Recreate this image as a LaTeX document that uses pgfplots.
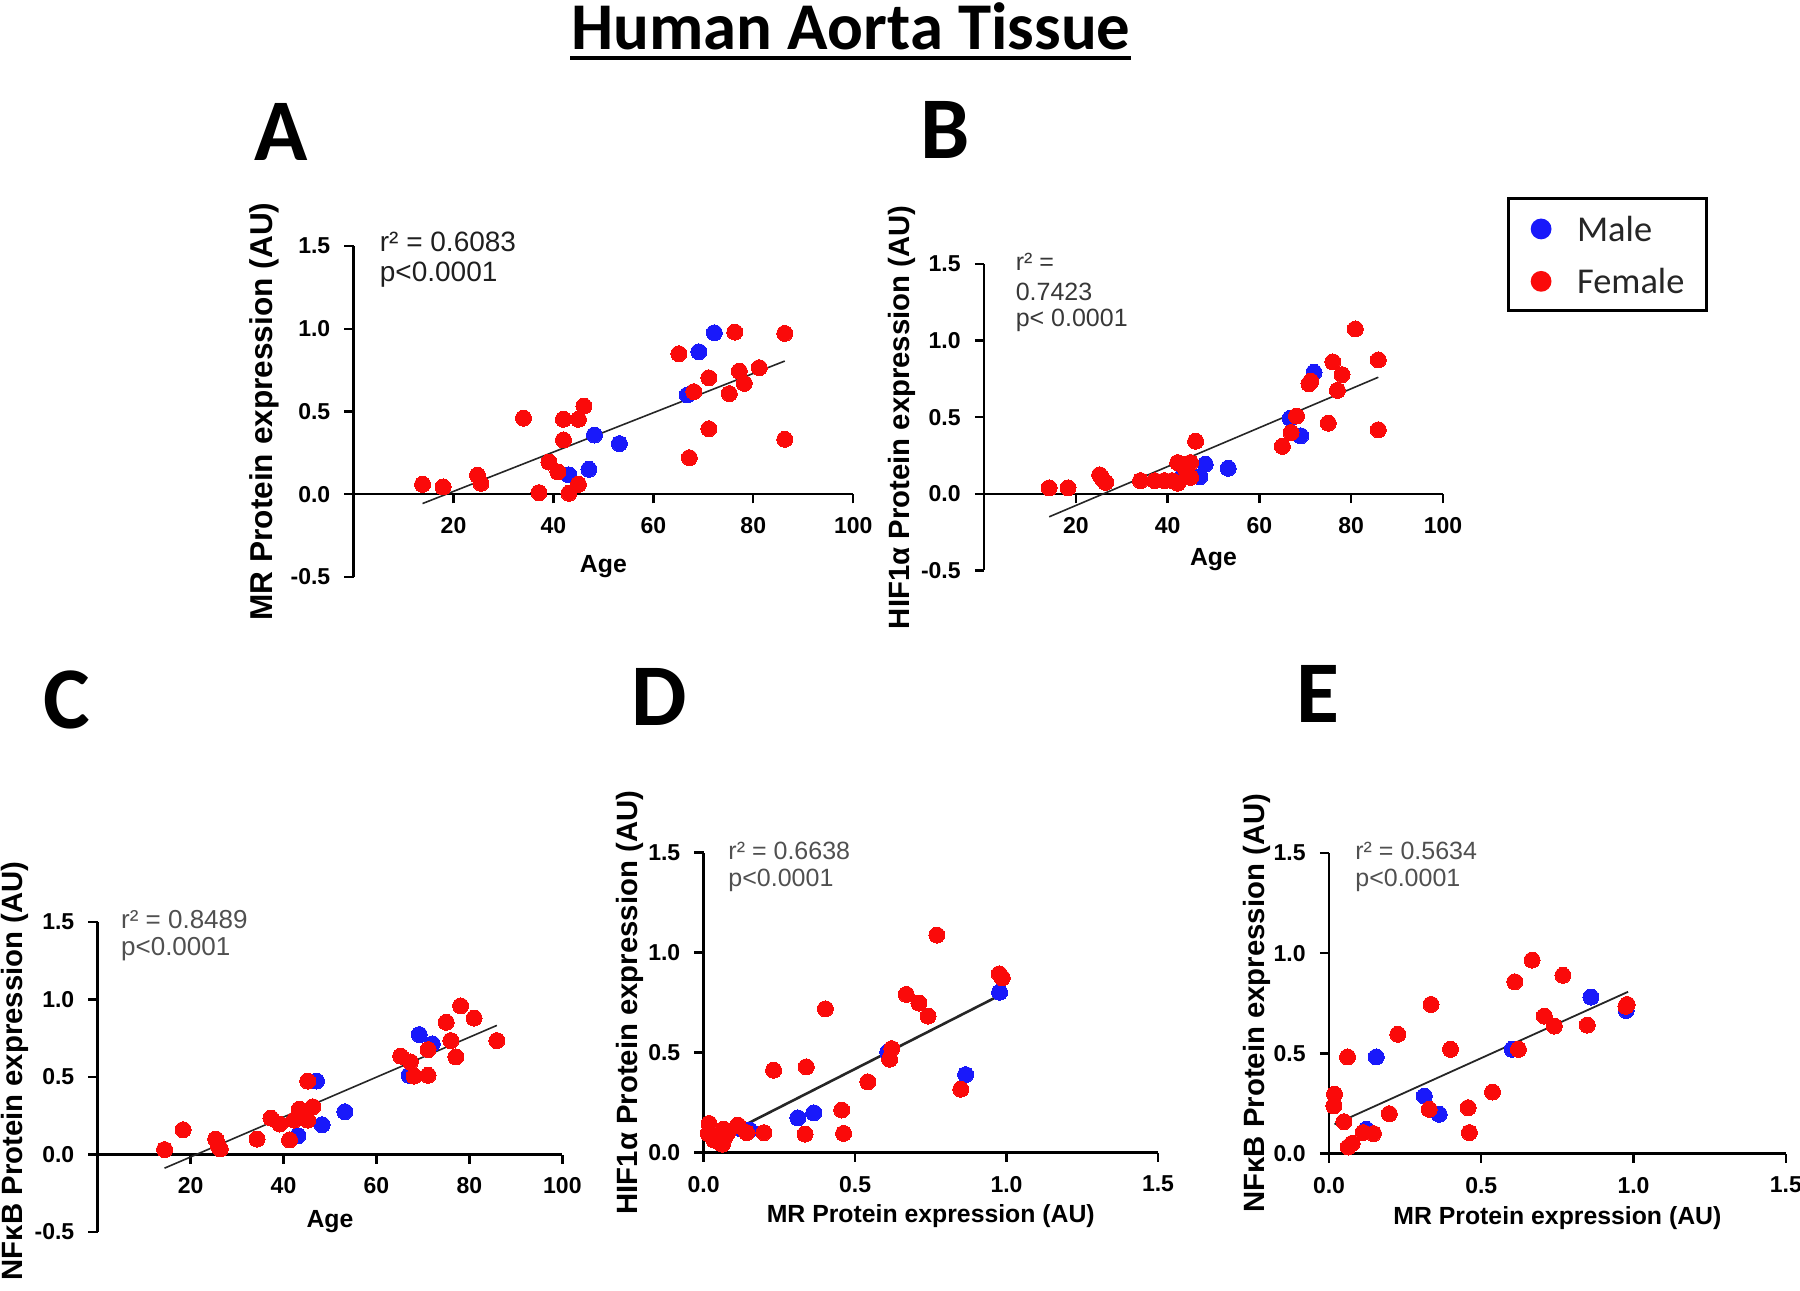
\documentclass[border=0pt]{standalone}
\usepackage{pgfplots}
\pgfplotsset{compat=1.18}
\usepackage{fontspec}
\setmainfont{Liberation Sans}
\newfontfamily\calfont{Carlito}
\definecolor{mblue}{RGB}{25,25,250}
\definecolor{fred}{RGB}{250,10,10}
\definecolor{anngray}{RGB}{80,80,80}

\tikzset{
  xlab/.style={font=\bfseries\fontsize{6.2}{7}\selectfont},
  ylab/.style={font=\bfseries\fontsize{7.33}{8}\selectfont},
  ann/.style={anchor=west, inner sep=0pt},
}
\pgfplotsset{
  gp/.style={
    scale only axis,
    clip=false,
    axis line style={line width=0.6pt,-},
    tick style={line width=0.6pt, black},
    major tick length=2.3pt,
    tick align=outside,
    /pgf/number format/assume math mode=true,
    ticklabel style={font=\bfseries\fontsize{5.75}{6}\selectfont},
    yticklabel style={/pgf/number format/fixed, /pgf/number format/fixed zerofill, /pgf/number format/precision=1},
  },
  agepanel/.style={gp, axis x line*=middle, axis y line*=left,
    xmin=0, xmax=100, ymin=-0.5, ymax=1.5,
    xtick={20,40,60,80,100}, ytick={-0.5,0,0.5,1,1.5},
    hide obscured y ticks=false},
  mrpanel/.style={gp, axis lines*=left,
    xmin=0, xmax=1.5, ymin=0, ymax=1.5,
    xtick={0,0.5,1,1.5}, ytick={0,0.5,1,1.5},
    xticklabel style={/pgf/number format/fixed, /pgf/number format/fixed zerofill, /pgf/number format/precision=1}},
  males/.style={only marks, mark=*, mark size=2pt, color=mblue, mark options={draw=mblue, fill=mblue, line width=0pt}, forget plot},
  females/.style={only marks, mark=*, mark size=2pt, color=fred, mark options={draw=fred, fill=fred, line width=0pt}, forget plot},
  fit/.style={no marks, line width=0.4pt, black!85, forget plot},
}

\begin{document}
\begin{tikzpicture}
\path[use as bounding box] (0,0) rectangle (450pt,-322.5pt);

% Title
\node[font=\calfont\bfseries\fontsize{16.7}{18}\selectfont, anchor=base] at (212.7pt,-12.3pt) {Human Aorta Tissue};
\draw[line width=1pt] (142.5pt,-14.5pt) -- (282.8pt,-14.5pt);

% Panel letters
\node[font=\calfont\bfseries\fontsize{22}{24}\selectfont] at (70.3pt,-33pt) {A};
\node[font=\calfont\bfseries\fontsize{22}{24}\selectfont] at (236.3pt,-32.4pt) {B};
\node[font=\calfont\bfseries\fontsize{22}{24}\selectfont] at (16.7pt,-175pt) {C};
\node[font=\calfont\bfseries\fontsize{22}{24}\selectfont] at (164.8pt,-174.3pt) {D};
\node[font=\calfont\bfseries\fontsize{22}{24}\selectfont] at (329.5pt,-173.4pt) {E};

% ---------------- Panel A ----------------
\begin{axis}[agepanel, at={(88.4pt,-144.25pt)}, anchor=south west,
  width=124.9pt, height=82.75pt,
  xlabel={Age}, ylabel={MR Protein expression (AU)},
  xlabel style={xlab, at={(axis description cs:0.5,0.033)}, anchor=center},
  ylabel style={font=\bfseries\fontsize{7.9}{8.5}\selectfont, at={(axis description cs:-0.179,0.5)}, anchor=center}]
\addplot[males] coordinates {
(43.1,0.117) (47.1,0.151) (48.2,0.358) (53.2,0.306) (66.8,0.60) (69.1,0.861) (72.2,0.976)};
\addplot[females] coordinates {
(13.8,0.06) (17.9,0.044) (24.8,0.115) (25.5,0.066) (34.0,0.46) (37.1,0.01) (39.1,0.195)
(40.9,0.135) (42.0,0.453) (42.0,0.328) (43.1,0.006) (45.0,0.453) (46.1,0.533) (45.0,0.06)
(65.1,0.849) (67.2,0.221) (68.1,0.62) (71.1,0.704) (71.1,0.396) (75.2,0.608) (76.3,0.98)
(77.2,0.744) (78.2,0.67) (81.2,0.765) (86.3,0.972) (86.3,0.332)};
\addplot[fit] coordinates {(13.8,-0.056) (86.3,0.805)};
\node[ann, font=\fontsize{7}{8}\selectfont, text=black!88] at (axis description cs:0.051,1.012) {r² = 0.6083};
\node[ann, font=\fontsize{7}{8}\selectfont, text=black!88] at (axis description cs:0.051,0.915) {p<0.0001};
\end{axis}

% ---------------- Panel B ----------------
\begin{axis}[agepanel, at={(246pt,-142.6pt)}, anchor=south west,
  width=114.75pt, height=76.6pt,
  xlabel={Age}, ylabel={HIF1α Protein expression (AU)},
  xlabel style={xlab, at={(axis description cs:0.5,0.034)}, anchor=center},
  ylabel style={ylab, at={(axis description cs:-0.178,0.5)}, anchor=center},
  legend style={at={(axis description cs:1.139,1.2186)}, anchor=north west,
    draw=black, line width=0.75pt, fill=white,
    font=\calfont\fontsize{9.1}{10}\selectfont, text=black!85,
    inner xsep=5.6pt, inner ysep=2.6pt, row sep=3.5pt, column sep=6.4pt,
    nodes={inner sep=0pt, text height=8.1pt}, cells={anchor=west}},
  legend image code/.code={\fill[#1] (0pt,-0.2pt) circle (2.6pt);}]
\addlegendimage{fill=mblue, draw=none}
\addlegendentry{Male}
\addlegendimage{fill=fred, draw=none}
\addlegendentry{Female}
\addplot[males] coordinates {
(43.1,0.111) (47.0,0.111) (48.2,0.193) (53.2,0.167) (66.7,0.493) (69.0,0.379) (71.9,0.793)};
\addplot[females] coordinates {
(14.2,0.039) (18.3,0.039) (25.2,0.124) (25.8,0.096) (26.5,0.075) (34.1,0.086) (37.2,0.086)
(39.3,0.086) (41.0,0.086) (42.2,0.069) (42.2,0.204) (43.9,0.16) (45.0,0.204) (45.0,0.107)
(46.1,0.343) (65.0,0.31) (66.9,0.40) (68.1,0.508) (70.8,0.718) (71.2,0.735) (75.0,0.461)
(76.0,0.861) (77.0,0.675) (78.0,0.778) (80.9,1.076) (85.9,0.874) (85.9,0.418)};
\addplot[fit] coordinates {(14.2,-0.15) (85.9,0.761)};
\node[ann, font=\fontsize{6.25}{7}\selectfont, text=black!78] at (axis description cs:0.0675,1.0075) {r² =};
\node[ann, font=\fontsize{6.25}{7}\selectfont, text=black!78] at (axis description cs:0.0675,0.91) {0.7423};
\node[ann, font=\fontsize{6.25}{7}\selectfont, text=black!78] at (axis description cs:0.0675,0.816) {p< 0.0001};
\end{axis}

% ---------------- Panel C ----------------
\begin{axis}[agepanel, at={(24.4pt,-308pt)}, anchor=south west,
  width=116.2pt, height=77.5pt,
  xlabel={Age}, ylabel={NFκB Protein expression (AU)},
  xlabel style={xlab, at={(axis description cs:0.5,0.034)}, anchor=center},
  ylabel style={ylab, at={(axis description cs:-0.178,0.52)}, anchor=center}]
\addplot[males] coordinates {
(43.1,0.122) (47.1,0.474) (48.3,0.192) (53.2,0.276) (67.0,0.511) (69.2,0.774) (72.0,0.714)};
\addplot[females] coordinates {
(14.4,0.032) (18.4,0.16) (25.4,0.10) (26.0,0.058) (26.4,0.036) (34.3,0.10) (37.3,0.235)
(39.2,0.197) (41.3,0.094) (42.3,0.222) (43.4,0.293) (45.2,0.222) (45.2,0.474) (46.3,0.308)
(65.2,0.635) (67.3,0.598) (68.1,0.506) (71.1,0.677) (71.1,0.511) (75.0,0.853) (76.0,0.735)
(77.1,0.63) (78.1,0.959) (81.0,0.88) (85.9,0.735)};
\addplot[fit] coordinates {(14.4,-0.088) (85.9,0.833)};
\node[ann, font=\fontsize{6.5}{7}\selectfont, text=anngray] at (axis description cs:0.049,1.008) {r² = 0.8489};
\node[ann, font=\fontsize{6.5}{7}\selectfont, text=anngray] at (axis description cs:0.049,0.912) {p<0.0001};
\end{axis}

% ---------------- Panel D ----------------
\begin{axis}[mrpanel, at={(175.9pt,-288.15pt)}, anchor=south west,
  width=113.6pt, height=75pt,
  xlabel={MR Protein expression (AU)}, ylabel={HIF1α Protein expression (AU)},
  xlabel style={xlab, at={(axis description cs:0.5,-0.213)}, anchor=center},
  ylabel style={ylab, at={(axis description cs:-0.162,0.5)}, anchor=center}]
\addplot[males] coordinates {
(0.123,0.118) (0.152,0.113) (0.311,0.174) (0.364,0.199) (0.608,0.503) (0.865,0.39) (0.977,0.802)};
\addplot[females] coordinates {
(0.018,0.146) (0.015,0.096) (0.034,0.063) (0.057,0.047) (0.066,0.118) (0.072,0.08) (0.062,0.042)
(0.082,0.105) (0.113,0.138) (0.142,0.10) (0.199,0.10) (0.231,0.412) (0.335,0.093) (0.339,0.429)
(0.402,0.719) (0.456,0.213) (0.462,0.096) (0.542,0.354) (0.614,0.467) (0.621,0.52) (0.669,0.791)
(0.711,0.748) (0.741,0.683) (0.77,1.088) (0.849,0.317) (0.976,0.894) (0.986,0.874)};
\addplot[fit, line width=0.65pt] coordinates {(0.015,0.045) (0.977,0.786)};
\node[ann, font=\fontsize{6.25}{7}\selectfont, text=anngray] at (axis description cs:0.053,1.006) {r² = 0.6638};
\node[ann, font=\fontsize{6.25}{7}\selectfont, text=anngray] at (axis description cs:0.053,0.907) {p<0.0001};
\end{axis}

% ---------------- Panel E ----------------
\begin{axis}[mrpanel, at={(332.25pt,-288.4pt)}, anchor=south west,
  width=114.2pt, height=75.2pt,
  xlabel={MR Protein expression (AU)}, ylabel={NFκB Protein expression (AU)},
  xlabel style={xlab, at={(axis description cs:0.5,-0.215)}, anchor=center},
  ylabel style={ylab, at={(axis description cs:-0.157,0.5)}, anchor=center}]
\addplot[males] coordinates {
(0.122,0.121) (0.155,0.482) (0.313,0.287) (0.362,0.196) (0.601,0.52) (0.86,0.781) (0.976,0.714)};
\addplot[females] coordinates {
(0.018,0.296) (0.016,0.238) (0.049,0.159) (0.061,0.482) (0.063,0.033) (0.076,0.051) (0.112,0.105)
(0.146,0.10) (0.198,0.199) (0.226,0.595) (0.329,0.221) (0.335,0.744) (0.399,0.52) (0.457,0.229)
(0.461,0.105) (0.537,0.307) (0.61,0.857) (0.622,0.52) (0.667,0.965) (0.707,0.686) (0.74,0.636)
(0.768,0.889) (0.848,0.641) (0.979,0.744) (0.975,0.735)};
\addplot[fit, line width=0.45pt] coordinates {(0.018,0.146) (0.982,0.807)};
\node[ann, font=\fontsize{6.25}{7}\selectfont, text=anngray] at (axis description cs:0.056,1.007) {r² = 0.5634};
\node[ann, font=\fontsize{6.25}{7}\selectfont, text=anngray] at (axis description cs:0.056,0.907) {p<0.0001};
\end{axis}
\end{tikzpicture}
\end{document}
